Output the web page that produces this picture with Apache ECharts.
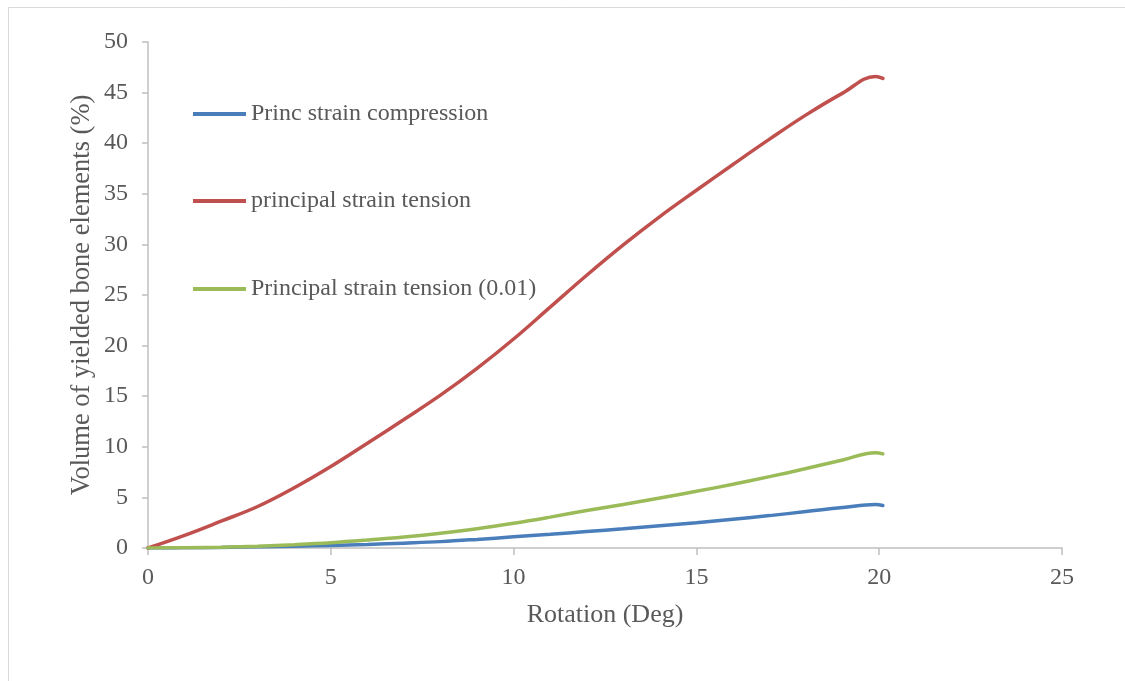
<!DOCTYPE html>
<html>
<head>
<meta charset="utf-8">
<script src="https://cdn.jsdelivr.net/npm/echarts@6/dist/echarts.min.js"></script>
<style>
  html, body { margin: 0; padding: 0; background: #ffffff; }
  #chart { width: 1125px; height: 681px; }
</style>
</head>
<body>
<div id="chart"></div>
<script>
// Rotation in degrees
const rotation = [0, 1, 2, 3, 4, 5, 6, 7, 8, 9, 10, 11, 12, 13, 14, 15, 16, 17, 18, 19, 19.9, 20.1];

// Volume of yielded bone elements (%)
const princCompression = [0, 0.02, 0.06, 0.12, 0.18, 0.25, 0.35, 0.48, 0.63, 0.85, 1.1, 1.35, 1.62, 1.9, 2.2, 2.5, 2.85, 3.2, 3.6, 4.0, 4.3, 4.2];
const principalTension = [0, 1.25, 2.65, 4.1, 5.95, 8.05, 10.35, 12.7, 15.1, 17.75, 20.65, 23.8, 26.95, 29.95, 32.75, 35.35, 37.9, 40.4, 42.8, 44.95, 46.6, 46.4];
const principalTension001 = [0, 0.03, 0.08, 0.18, 0.33, 0.52, 0.78, 1.08, 1.45, 1.9, 2.44, 3.05, 3.7, 4.3, 4.95, 5.6, 6.3, 7.05, 7.85, 8.7, 9.42, 9.3];

const seriesNames = ['Princ strain compression', 'principal strain tension', 'Principal strain tension (0.01)'];
const seriesColors = ['#4A7EBB', '#C0504D', '#9BBB59'];
const seriesValues = [princCompression, principalTension, principalTension001];

const FONT = '"Liberation Serif", "Times New Roman", serif';
const TEXT = '#595959';
const AXIS = '#BFBFBF';

const chart = echarts.init(document.getElementById('chart'), null, { renderer: 'canvas' });

const legendTops = [97, 184, 272];

chart.setOption({
  animation: false,
  backgroundColor: '#ffffff',
  graphic: [{
    type: 'rect',
    shape: { x: 8.5, y: 7.5, width: 1300, height: 900 },
    style: { fill: 'none', stroke: '#D9D9D9', lineWidth: 1 },
    silent: true
  }],
  legend: seriesNames.map((name, i) => ({
    data: [{ name: name, icon: 'rect' }],
    left: 188,
    top: legendTops[i],
    itemWidth: 53,
    itemHeight: 4,
    itemGap: 5,
    textStyle: { fontFamily: FONT, fontSize: 24, color: TEXT, padding: [0, 0, 0, 0] },
    selectedMode: false
  })),
  grid: { left: 148, right: 63, top: 42, bottom: 133, containLabel: false },
  xAxis: {
    type: 'value',
    min: 0, max: 25, interval: 5,
    name: 'Rotation (Deg)',
    nameLocation: 'middle',
    nameGap: 54,
    nameTextStyle: { fontFamily: FONT, fontSize: 26, color: TEXT },
    axisLine: { show: true, lineStyle: { color: AXIS, width: 1.5 } },
    axisTick: { show: true, inside: false, length: 7, lineStyle: { color: AXIS, width: 1.5 } },
    axisLabel: { fontFamily: FONT, fontSize: 24, color: TEXT, margin: 18 },
    splitLine: { show: false }
  },
  yAxis: {
    type: 'value',
    min: 0, max: 50, interval: 5,
    name: 'Volume of yielded bone elements (%)',
    nameLocation: 'middle',
    nameGap: 52,
    nameMoveOverlap: false,
    nameTextStyle: { fontFamily: FONT, fontSize: 26.5, color: TEXT },
    axisLine: { show: true, lineStyle: { color: AXIS, width: 1.5 } },
    axisTick: { show: true, inside: false, length: 6, lineStyle: { color: AXIS, width: 1.5 } },
    axisLabel: { fontFamily: FONT, fontSize: 24, color: TEXT, margin: 20 },
    splitLine: { show: false }
  },
  series: seriesNames.map((name, i) => ({
    name: name,
    type: 'line',
    smooth: 0.4,
    showSymbol: false,
    symbol: 'none',
    color: seriesColors[i],
    lineStyle: { width: 3.5, color: seriesColors[i], cap: 'round' },
    data: rotation.map((x, k) => [x, seriesValues[i][k]]),
    z: i === 0 ? 2 : 3
  }))
});
</script>
</body>
</html>
